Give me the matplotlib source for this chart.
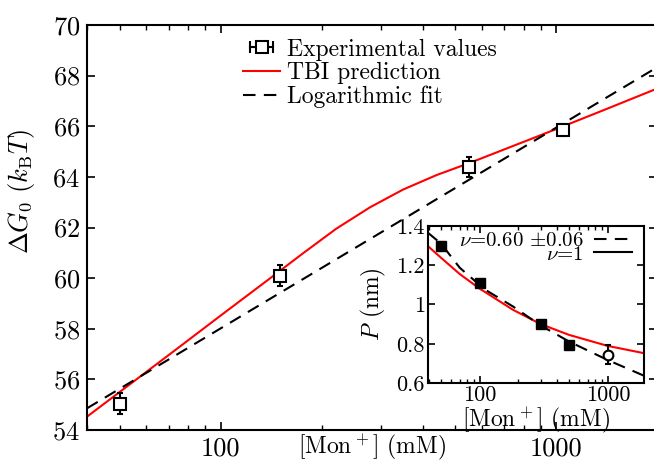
import numpy as np
import matplotlib
matplotlib.use("Agg")
import matplotlib.pyplot as plt
from matplotlib.lines import Line2D
from matplotlib.legend_handler import HandlerLine2D, HandlerTuple
from matplotlib.ticker import NullFormatter, LogLocator

plt.rcParams['font.family'] = 'serif'
plt.rcParams['font.serif'] = ['cmr10']
plt.rcParams['mathtext.fontset'] = 'cm'
plt.rcParams['axes.formatter.use_mathtext'] = True
plt.rcParams['axes.unicode_minus'] = False

# %% data
# main panel: unfolding free energy vs monovalent salt
conc_exp = [50, 150, 550, 1050]
dg_exp = [55.05, 60.1, 64.38, 65.85]
dg_err = [0.41, 0.41, 0.4, 0.25]

conc_tbi = [40, 50, 70, 100, 140, 176, 221, 279, 350, 440, 560, 696, 877, 1060,
            1400, 1950]
dg_tbi = [54.53, 55.5, 56.96, 58.52, 59.98, 60.98, 61.95, 62.8, 63.5, 64.07,
          64.58, 65.07, 65.59, 66.02, 66.66, 67.43]

conc_logfit = [40, 2000]
dg_logfit = [54.86, 68.33]

# inset: persistence length
conc_p = [50, 100, 300, 500]
p_vals = [1.30, 1.11, 0.90, 0.795]
p_err = [0.02, 0.0, 0.0, 0.0]
conc_p_open = [1000]
p_open = [0.745]
p_open_err = [0.05]

conc_p_tbi = [39.4, 50, 70, 100, 182, 300, 500, 1000, 1920]
p_tbi = [1.298, 1.238, 1.155, 1.081, 0.973, 0.90, 0.845, 0.789, 0.752]

conc_p_fit = [39.4, 50, 70, 110, 182, 300, 500, 1000, 1920]
p_fit = [1.366, 1.31, 1.187, 1.076, 0.99, 0.893, 0.811, 0.717, 0.637]

# %% main plot
fig = plt.figure(figsize=(6.54, 4.61), dpi=100)
ax = fig.add_axes([0.133, 0.067, 0.872, 0.879])

ax.plot(conc_tbi, dg_tbi, color='red', lw=1.5, zorder=2)
ax.plot(conc_logfit, dg_logfit, color='black', lw=1.5, dashes=(6, 4), zorder=2)
ax.errorbar(conc_exp, dg_exp, yerr=dg_err, fmt='s', color='black', mfc='white',
            mec='black', ms=8, mew=1.5, elinewidth=1.5, capsize=2.5, capthick=1.5,
            zorder=3)

ax.set_xscale('log')
ax.set_xlim(40, 2000)
ax.set_ylim(54, 70)
ax.set_yticks(np.arange(54, 71, 2))
ax.set_xticks([100, 1000], labels=['100', '1000'])
ax.xaxis.set_minor_locator(LogLocator(base=10, subs=np.arange(2, 10)))
ax.xaxis.set_minor_formatter(NullFormatter())
ax.tick_params(which='both', direction='in', top=True, right=True, labelsize=19, pad=5)
ax.tick_params(which='major', length=6, width=1.2)
ax.tick_params(which='minor', length=3.5, width=1.0)
for s in ax.spines.values():
    s.set_linewidth(1.5)

ax.set_xlabel('[Mon$^+$] (mM)', fontsize=17)
ax.xaxis.set_label_coords(0.5, -0.004)
ax.set_ylabel(r'$\Delta G_0\ (k_{\mathrm{B}}T)$', fontsize=19)
ax.yaxis.set_label_coords(-0.088, 0.59)

cap_line = Line2D([], [], color='black', lw=1.5, marker='|', ms=8, mew=1.5)
sq = Line2D([], [], ls='none', marker='s', mfc='white', mec='black', ms=8, mew=1.5)
red_h = Line2D([], [], color='red', lw=1.5)
dash_h = Line2D([], [], color='black', lw=1.5, dashes=(6, 4))
ax.legend([(cap_line, sq), red_h, dash_h],
          ['Experimental values', 'TBI prediction', 'Logarithmic fit'],
          handler_map={cap_line: HandlerLine2D(numpoints=2),
                       tuple: HandlerTuple(ndivide=1)},
          loc='upper left', bbox_to_anchor=(0.257, 0.99), frameon=False,
          fontsize=17, handlelength=1.57, handletextpad=0.3, labelspacing=0.07,
          borderaxespad=0)

# %% inset
axin = fig.add_axes([0.654, 0.169, 0.331, 0.341])
axin.plot(conc_p_tbi, p_tbi, color='red', lw=1.5)
axin.plot(conc_p_fit, p_fit, color='black', lw=1.5, dashes=(6, 4))
axin.errorbar(conc_p, p_vals, yerr=p_err, fmt='s', color='black', ms=7,
              elinewidth=1.5, capsize=2, capthick=1.5)
axin.errorbar(conc_p_open, p_open, yerr=p_open_err, fmt='o', color='black',
              mfc='white', ms=7, mew=1.5, elinewidth=1.5, capsize=2, capthick=1.5)

axin.set_xscale('log')
axin.set_xlim(39.4, 1920)
axin.set_ylim(0.6, 1.4)
axin.set_yticks([0.6, 0.8, 1.0, 1.2, 1.4], labels=['0.6', '0.8', '1', '1.2', '1.4'])
axin.set_xticks([100, 1000], labels=['100', '1000'])
axin.xaxis.set_minor_locator(LogLocator(base=10, subs=np.arange(2, 10)))
axin.xaxis.set_minor_formatter(NullFormatter())
axin.tick_params(which='both', direction='in', top=True, right=True, labelsize=16, pad=2)
axin.tick_params(which='major', length=5, width=1.2)
axin.tick_params(which='minor', length=3, width=1.0)
for s in axin.spines.values():
    s.set_linewidth(1.5)
axin.set_xlabel('[Mon$^+$] (mM)', fontsize=17, labelpad=0)
axin.set_ylabel('$P$ (nm)', fontsize=17)
axin.yaxis.set_label_coords(-0.185, 0.5)

nu_fit = Line2D([], [], color='black', lw=1.5, dashes=(6, 4))
nu_one = Line2D([], [], color='black', lw=1.5)
axin.legend([nu_fit, nu_one], [r'$\nu$=0.60 $\pm$0.06', r'$\nu$=1'],
            loc='upper right', bbox_to_anchor=(0.99, 1.03), frameon=False,
            markerfirst=False, fontsize=15, handlelength=1.8, handletextpad=0.5,
            labelspacing=-0.25, borderaxespad=0.1)

fig.savefig('out.png', dpi=100)
